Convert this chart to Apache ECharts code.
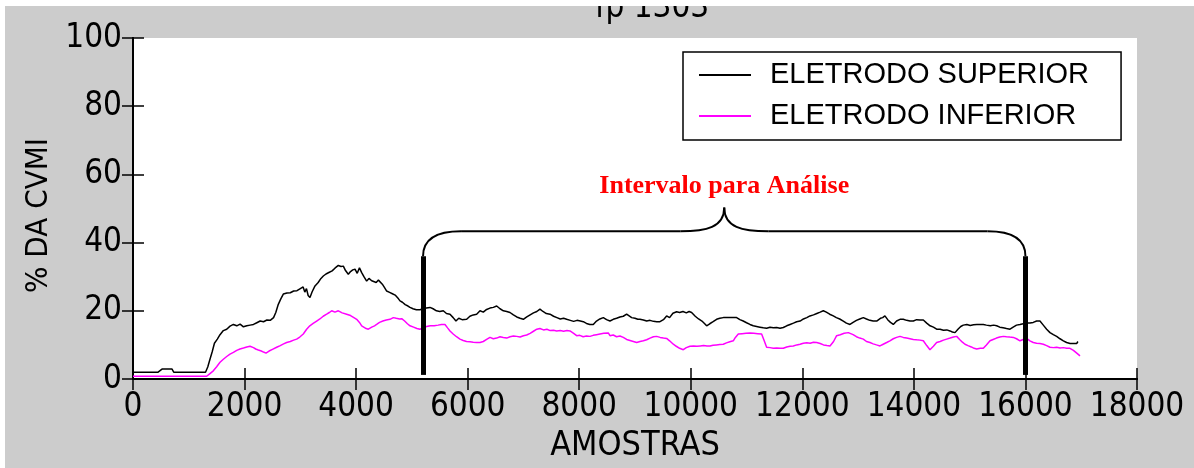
<!DOCTYPE html>
<html>
<head>
<meta charset="utf-8">
<script src="https://cdn.jsdelivr.net/npm/echarts@6/dist/echarts.min.js"></script>
<style>
  html, body { margin: 0; padding: 0; background: #ffffff; }
  #chart { width: 1194px; height: 468px; }
</style>
</head>
<body>
<div id="chart"></div>
<script>
// EMG amplitude (% of maximal voluntary contraction) for the upper and lower electrodes
const xTicks = [0, 2000, 4000, 6000, 8000, 10000, 12000, 14000, 16000, 18000];
const yTicks = [0, 20, 40, 60, 80, 100];

const supSamples = [0,200,450,520,700,730,1000,1300,1340,1380,1420,1460,1512,1560,1620,1680,1740,1800,1860,1920,1980,2010,2040,2100,2160,2220,2280,2340,2400,2460,2520,2560,2605,2650,2695,2760,2820,2880,2940,3000,3050,3080,3110,3140,3173,3210,3263,3320,3370,3412,3460,3520,3570,3620,3681,3730,3771,3810,3860,3900,3940,3980,4020,4060,4100,4140,4189,4230,4280,4308,4360,4400,4428,4470,4510,4548,4600,4650,4700,4727,4760,4787,4830,4880,4930,4966,5020,5080,5145,5200,5260,5324,5380,5440,5500,5563,5620,5683,5740,5790,5840,5900,5982,6040,6100,6161,6221,6280,6340,6400,6460,6520,6580,6640,6700,6759,6820,6880,6940,6998,7060,7120,7180,7240,7296,7350,7410,7476,7540,7600,7660,7720,7775,7840,7900,7960,8020,8073,8130,8190,8252,8310,8370,8432,8490,8551,8610,8670,8730,8790,8850,8880,8940,9000,9050,9089,9150,9210,9270,9330,9390,9448,9510,9567,9620,9680,9746,9800,9860,9920,9970,10015,10080,10140,10200,10250,10284,10340,10400,10463,10520,10583,10640,10700,10760,10822,10880,10940,11000,11061,11120,11180,11240,11300,11360,11420,11480,11540,11600,11659,11720,11780,11840,11898,11960,12020,12080,12137,12200,12260,12320,12376,12430,12490,12555,12610,12670,12734,12790,12854,12910,12970,13030,13093,13150,13210,13270,13333,13400,13440,13481,13530,13580,13631,13690,13751,13810,13870,13930,13990,14050,14110,14169,14230,14290,14350,14408,14470,14530,14590,14647,14690,14737,14790,14840,14886,14950,15010,15070,15130,15190,15245,15300,15370,15430,15484,15540,15600,15660,15723,15780,15840,15902,15960,16020,16081,16140,16200,16260,16320,16380,16440,16500,16559,16620,16680,16738,16800,16860,16918,16940];
const supValues = [2.0,2.0,2.0,2.9,2.9,2.0,2.0,2.0,3.5,5.8,8.0,10.5,11.7,13.0,14.2,14.6,15.5,16.0,15.6,16.1,15.3,14.8,15.6,15.8,16.0,16.5,17.0,16.8,17.3,17.2,18.0,19.5,21.9,23.5,24.9,25.2,25.3,25.8,25.9,26.5,27.0,25.5,26.5,24.5,23.9,25.5,27.3,28.3,29.5,30.2,30.8,31.3,31.7,32.5,33.3,33.0,33.1,31.8,30.7,31.5,32.0,32.2,31.0,32.6,31.2,30.0,28.7,29.5,28.8,29.2,28.3,29.0,28.7,27.8,26.8,25.8,25.4,25.0,24.6,24.4,23.5,22.9,22.5,21.8,21.4,21.0,20.6,20.3,20.3,20.6,20.8,21.0,20.6,20.0,19.8,20.0,19.2,19.0,18.0,17.0,17.8,17.4,17.5,18.4,18.8,19.0,20.0,19.6,20.4,20.8,21.0,21.4,20.6,20.0,19.8,19.5,18.8,18.2,17.8,17.5,18.2,18.8,19.4,19.8,20.5,19.8,19.2,19.0,18.4,18.0,17.6,17.8,17.5,17.2,16.9,17.2,17.0,16.8,16.3,16.0,16.0,17.0,17.6,18.0,17.4,17.0,17.5,17.8,18.2,18.4,19.0,18.6,18.0,17.8,17.5,17.5,17.3,17.0,17.2,16.9,16.8,16.8,17.4,18.5,18.0,19.3,19.7,19.5,19.8,19.4,19.8,19.5,18.4,17.6,17.0,16.2,15.6,16.2,16.8,17.5,17.8,18.0,18.0,18.0,18.0,18.0,17.4,17.0,16.5,16.0,15.6,15.4,15.2,15.0,14.9,15.2,15.0,15.1,14.9,15.1,15.6,16.0,16.4,16.8,17.0,17.6,18.0,18.5,18.8,19.2,19.6,20.0,19.6,19.0,18.5,18.0,17.6,17.0,16.4,16.0,16.6,17.2,17.6,18.0,17.6,17.2,17.0,17.0,17.8,18.0,18.5,17.4,16.6,16.0,17.0,17.5,17.5,17.2,17.0,17.0,17.4,17.3,17.3,16.4,15.6,15.2,14.6,14.6,14.3,14.4,14.1,13.8,13.6,14.6,15.4,15.8,16.0,15.7,15.9,16.0,16.0,16.0,15.8,15.6,15.8,15.6,15.2,15.0,14.8,14.6,15.2,15.8,16.0,16.2,16.4,16.4,16.6,17.0,17.0,15.8,14.6,13.6,13.0,12.5,11.8,11.2,10.7,10.4,10.4,10.4,11.0];

const infSamples = [0,400,800,1200,1320,1380,1440,1500,1560,1620,1680,1739,1800,1860,1918,1980,2040,2098,2160,2200,2247,2300,2340,2384,2440,2500,2576,2640,2700,2755,2820,2880,2934,2990,3053,3113,3170,3230,3293,3350,3410,3472,3520,3562,3620,3681,3750,3831,3900,3960,4010,4060,4100,4129,4180,4219,4280,4330,4368,4420,4480,4540,4607,4667,4720,4780,4817,4870,4920,4966,5030,5090,5145,5200,5264,5330,5400,5470,5530,5593,5640,5683,5740,5800,5862,5920,5980,6041,6100,6161,6221,6280,6340,6400,6460,6520,6580,6639,6700,6760,6820,6879,6940,7000,7058,7120,7180,7240,7296,7360,7420,7480,7540,7596,7660,7720,7780,7835,7900,7954,8010,8070,8130,8193,8250,8310,8372,8440,8521,8551,8610,8670,8730,8790,8850,8910,8970,9030,9090,9150,9209,9270,9330,9388,9450,9510,9567,9620,9687,9740,9800,9866,9920,9986,10050,10110,10170,10230,10290,10344,10400,10460,10520,10583,10640,10700,10762,10800,10852,10920,10990,11061,11130,11200,11270,11310,11360,11420,11480,11540,11600,11659,11720,11780,11838,11900,11960,12017,12080,12140,12200,12257,12320,12380,12440,12496,12560,12615,12680,12750,12824,12854,12910,12970,13030,13093,13150,13213,13270,13330,13392,13450,13512,13570,13630,13690,13751,13810,13870,13930,13990,14049,14110,14169,14230,14288,14350,14408,14470,14530,14588,14650,14710,14767,14820,14870,14916,14970,15030,15080,15126,15190,15245,15300,15365,15420,15480,15540,15604,15660,15720,15783,15840,15902,15960,16022,16080,16141,16200,16260,16320,16380,16440,16500,16560,16620,16680,16740,16798,16860,16920,16978];
const infValues = [0.8,0.8,0.8,0.8,0.8,1.6,2.4,3.6,4.9,5.8,6.6,7.3,7.8,8.4,8.8,9.1,9.4,9.6,9.2,8.8,8.5,8.2,7.9,7.6,8.2,8.7,9.3,9.8,10.3,10.7,11.0,11.4,11.7,12.3,13.2,14.6,15.6,16.3,17.0,17.6,18.4,19.0,19.5,20.0,19.6,20.0,19.4,19.0,18.6,18.0,17.5,16.6,15.6,15.1,14.8,14.6,15.2,15.6,16.0,16.6,17.0,17.3,17.5,18.0,17.8,17.6,17.7,17.0,16.2,15.6,15.2,14.8,14.6,15.0,15.4,15.6,15.6,15.8,16.0,16.0,15.0,14.1,13.2,12.4,11.7,11.3,11.0,10.9,10.8,10.7,10.7,11.0,11.6,12.2,11.8,12.0,12.4,12.2,12.0,12.4,12.6,12.5,12.3,12.7,12.9,13.4,14.0,14.6,14.8,14.4,14.6,14.2,14.3,14.1,14.2,14.0,14.2,14.1,13.4,12.7,12.8,12.4,12.6,12.5,12.8,13.0,13.2,13.4,13.5,12.7,12.9,12.4,12.6,12.2,11.6,11.3,11.0,10.7,11.0,11.2,11.5,12.0,12.4,12.5,12.2,12.0,11.9,11.2,10.2,9.6,9.0,8.6,9.2,9.6,9.7,9.6,9.7,9.8,9.7,9.7,9.9,10.0,10.1,10.2,10.6,10.9,11.2,12.2,13.2,13.3,13.4,13.5,13.4,13.3,13.2,11.5,9.3,9.2,9.0,9.1,9.0,9.0,9.4,9.6,9.7,10.0,10.2,10.5,10.6,10.5,10.8,10.7,10.4,10.0,9.8,9.7,11.0,12.7,13.0,13.4,13.6,13.6,13.0,12.4,12.0,11.7,11.0,10.7,10.3,10.0,9.7,10.2,10.7,11.2,11.8,12.2,12.5,12.2,12.0,11.8,11.6,11.5,11.4,11.2,9.8,8.6,9.6,10.7,11.0,11.4,11.7,12.0,12.3,12.5,11.6,10.8,10.2,9.8,9.4,9.0,8.8,9.0,9.0,10.0,11.2,11.6,12.0,12.3,12.5,12.4,12.3,12.2,11.8,11.2,11.6,11.9,11.2,10.7,10.5,10.4,10.2,9.8,9.3,9.2,9.3,9.1,9.2,9.0,9.0,8.4,7.6,6.8];

// Analysis window marked on the chart
const intervalStart = 5200;
const intervalEnd = 16000;
const markerBottom = 1.2;
const markerTop = 36;
const braceLevel = 43.3;
const braceTip = 50.3;
const captionLevel = 56.4;

const narrow = '"Liberation Sans Narrow", "Arial Narrow", "DejaVu Sans Condensed", sans-serif';

const zip = (xs, ys) => xs.map((x, i) => [x, ys[i]]);
const plain = v => String(v);

const chart = echarts.init(document.getElementById('chart'), null, { renderer: 'canvas' });

const axisLineStyle = { color: '#000', width: 2 };
const tickStyle = { color: '#000', width: 1.5 };

chart.setOption({
  animation: false,
  backgroundColor: '#cccccc',
  title: {
    text: 'fp 1303',
    left: 590,
    top: -13,
    textStyle: { fontFamily: narrow, fontSize: 33, fontWeight: 'normal', color: '#000' }
  },
  grid: { left: 133, right: 57, top: 38, bottom: 88, show: true, backgroundColor: '#ffffff', borderWidth: 0 },
  legend: {
    orient: 'vertical',
    left: 683,
    top: 52,
    padding: [8, 32, 9, 16],
    itemGap: 11,
    itemWidth: 52,
    itemHeight: 2,
    icon: 'rect',
    backgroundColor: '#ffffff',
    borderColor: '#000',
    borderWidth: 1.5,
    textStyle: { fontFamily: '"Liberation Sans", Arial, sans-serif', fontSize: 29, color: '#000', lineHeight: 30, padding: [0, 0, 0, 14] },
    data: ['ELETRODO SUPERIOR', 'ELETRODO INFERIOR']
  },
  xAxis: [{
    type: 'value', min: xTicks[0], max: xTicks[xTicks.length - 1], interval: xTicks[1] - xTicks[0],
    position: 'bottom',
    name: 'AMOSTRAS', nameLocation: 'middle', nameGap: 50,
    nameTextStyle: { fontFamily: narrow, fontSize: 34, color: '#000' },
    axisLine: { show: true, lineStyle: axisLineStyle },
    axisTick: { show: true, inside: true, length: 11, lineStyle: tickStyle },
    axisLabel: { fontFamily: narrow, fontSize: 33, color: '#000', margin: 12, formatter: plain },
    splitLine: { show: false }
  }, {
    type: 'value', min: xTicks[0], max: xTicks[xTicks.length - 1], interval: xTicks[1] - xTicks[0],
    position: 'top',
    axisLine: { show: true, lineStyle: axisLineStyle },
    axisTick: { show: true, inside: true, length: 11, lineStyle: tickStyle },
    axisLabel: { show: false },
    splitLine: { show: false }
  }],
  yAxis: [{
    type: 'value', min: yTicks[0], max: yTicks[yTicks.length - 1], interval: yTicks[1] - yTicks[0],
    position: 'left',
    name: '% DA CVMI', nameLocation: 'middle', nameGap: 74,
    nameTextStyle: { fontFamily: narrow, fontSize: 31, color: '#000', padding: [0, 14, 0, 0] },
    axisLine: { show: true, lineStyle: axisLineStyle },
    axisTick: { show: true, inside: true, length: 11, lineStyle: tickStyle },
    axisLabel: { fontFamily: narrow, fontSize: 33, color: '#000', margin: 11, formatter: plain },
    splitLine: { show: false }
  }, {
    type: 'value', min: yTicks[0], max: yTicks[yTicks.length - 1], interval: yTicks[1] - yTicks[0],
    position: 'right',
    axisLine: { show: true, lineStyle: axisLineStyle },
    axisTick: { show: true, inside: true, length: 11, lineStyle: tickStyle },
    axisLabel: { show: false },
    splitLine: { show: false }
  }],
  series: [{
    name: 'ELETRODO SUPERIOR',
    type: 'line',
    data: zip(supSamples, supValues),
    symbol: 'none',
    lineStyle: { color: '#000000', width: 1.5 },
    itemStyle: { color: '#000000' },
    z: 3
  }, {
    name: 'ELETRODO INFERIOR',
    type: 'line',
    data: zip(infSamples, infValues),
    symbol: 'none',
    lineStyle: { color: '#ff00ff', width: 1.5 },
    itemStyle: { color: '#ff00ff' },
    z: 4,
    markLine: {
      silent: true,
      symbol: ['none', 'none'],
      label: { show: false },
      lineStyle: { color: '#000', width: 5, type: 'solid', cap: 'butt' },
      data: [
        [{ coord: [intervalStart, markerBottom] }, { coord: [intervalStart, markerTop] }],
        [{ coord: [intervalEnd, markerBottom] }, { coord: [intervalEnd, markerTop] }]
      ]
    }
  }]
});

// Curly brace over the analysis window and its caption, placed in data space
const px = (x, y) => chart.convertToPixel({ xAxisIndex: 0, yAxisIndex: 0 }, [x, y]);
const [xL, yBar] = px(intervalStart, markerTop);
const [xR] = px(intervalEnd, markerTop);
const xM = (xL + xR) / 2;
const yH = px(intervalStart, braceLevel)[1];
const yT = px(intervalStart, braceTip)[1];
const yC = px(intervalStart, captionLevel)[1];

const braceStyle = { stroke: '#000', lineWidth: 2, fill: null };
const curve = (x1, y1, cpx1, cpy1, cpx2, cpy2, x2, y2) => ({
  type: 'bezierCurve', z: 50, shape: { x1, y1, cpx1, cpy1, cpx2, cpy2, x2, y2 }, style: braceStyle
});
const segment = (x1, y1, x2, y2) => ({
  type: 'line', z: 50, shape: { x1, y1, x2, y2 }, style: braceStyle
});

chart.setOption({
  graphic: [
    { type: 'rect', z: 100, shape: { x: 0, y: 0, width: 1194, height: 6 }, style: { fill: '#ffffff' } },
    { type: 'rect', z: 100, shape: { x: 0, y: 0, width: 5, height: 468 }, style: { fill: '#ffffff' } },
    curve(xL, yBar, xL, yH + 10, xL + 10, yH, xL + 38, yH),
    segment(xL + 38, yH, xM - 44, yH),
    curve(xM - 44, yH, xM - 18, yH, xM, yH - 4, xM, yT),
    curve(xM, yT, xM, yH - 4, xM + 18, yH, xM + 44, yH),
    segment(xM + 44, yH, xR - 38, yH),
    curve(xR - 38, yH, xR - 10, yH, xR, yH + 10, xR, yBar),
    {
      type: 'text', z: 50, x: xM, y: yC,
      style: {
        text: 'Intervalo para Análise',
        font: 'bold 26px "Liberation Serif", "Times New Roman", serif',
        fill: '#ff0000', align: 'center', verticalAlign: 'middle'
      }
    }
  ]
});
</script>
</body>
</html>
